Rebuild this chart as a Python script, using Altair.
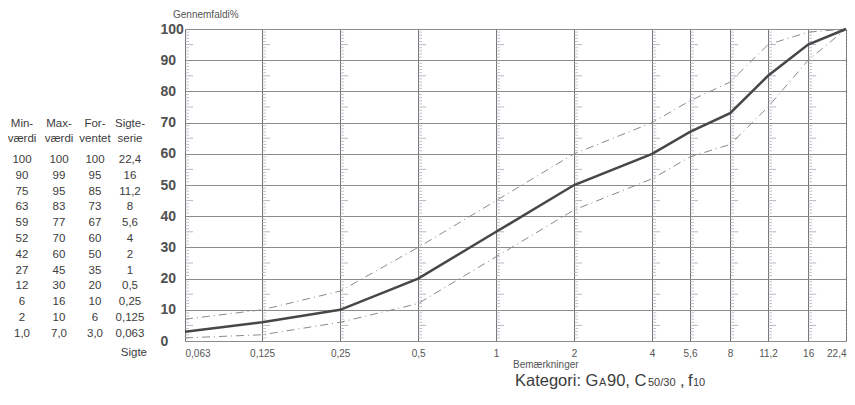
import altair as alt
import pandas as pd

# ---- data ----
sieves = [0.063, 0.125, 0.25, 0.5, 1, 2, 4, 5.6, 8, 11.2, 16, 22.4]
min_vals = [1, 2, 6, 12, 27, 42, 52, 59, 63, 75, 90, 100]
max_vals = [7, 10, 16, 30, 45, 60, 70, 77, 83, 95, 99, 100]
exp_vals = [3, 6, 10, 20, 35, 50, 60, 67, 73, 85, 95, 100]
y_ticks = [0, 10, 20, 30, 40, 50, 60, 70, 80, 90, 100]
headers1 = ["Min-", "Max-", "For-", "Sigte-"]
headers2 = ["værdi", "værdi", "ventet", "serie"]

FONT = "Liberation Sans"
W, H = 661, 312

def dk(v):
    return str(v).replace(".", ",")

def fmt_val(v, i):
    return f"{v:.1f}".replace(".", ",") if i == 0 else str(v)

# ---- curve data ----
curves = pd.DataFrame(
    [{"sieve": s, "pct": v, "series": "Min"} for s, v in zip(sieves, min_vals)]
    + [{"sieve": s, "pct": v, "series": "Max"} for s, v in zip(sieves, max_vals)]
)
expected = pd.DataFrame({"sieve": sieves, "pct": exp_vals})

# ruler ticks along each sieve line (grid decoration)
ruler_small = pd.DataFrame(
    [{"sieve": s, "pct": p} for s in sieves for p in range(1, 100) if p % 5 != 0]
)
ruler_big = pd.DataFrame(
    [{"sieve": s, "pct": p} for s in sieves for p in range(5, 100, 10)]
)

xscale = alt.Scale(type="log", domain=[sieves[0], sieves[-1]], nice=False)
yscale = alt.Scale(domain=[0, 100], nice=False)

x_enc = alt.X(
    "sieve:Q",
    scale=xscale,
    axis=alt.Axis(
        values=sieves,
        grid=True,
        gridColor="#707070",
        gridWidth=1,
        gridOpacity=1,
        domain=False,
        ticks=False,
        tickSize=0,
        labelPadding=7,
        labelFontSize=10,
        labelColor="#555555",
        labelFont=FONT,
        labelExpr="replace(toString(datum.value), '.', ',')",
        title=None,
        labelOverlap=False,
    ),
)
y_enc = alt.Y(
    "pct:Q",
    scale=yscale,
    axis=alt.Axis(
        values=y_ticks,
        tickCount=11,
        grid=True,
        gridColor="#8c8c8c",
        gridWidth=1,
        gridOpacity=1,
        domain=False,
        ticks=False,
        tickSize=0,
        labelAlign="left",
        labelBaseline="middle",
        labelPadding=25,
        labelFontSize=14,
        labelFontWeight="bold",
        labelColor="#505050",
        labelFont=FONT,
        labelOverlap=False,
        title=None,
    ),
)

small = alt.Chart(ruler_small).mark_tick(
    orient="horizontal", size=4, thickness=1, color="#a9a9b8", xOffset=2
).encode(x=x_enc, y=y_enc)
big = alt.Chart(ruler_big).mark_tick(
    orient="horizontal", size=8, thickness=1, color="#9a9aa8", xOffset=4
).encode(x=x_enc, y=y_enc)

limits = alt.Chart(curves).mark_line(
    color="#8a8a8a", strokeWidth=1, strokeDash=[8, 4, 1, 4]
).encode(x=x_enc, y=y_enc, detail="series:N")

main = alt.Chart(expected).mark_line(color="#474747", strokeWidth=2.5).encode(
    x=x_enc, y=y_enc
)

plot = alt.layer(small, big, limits, main)

# ---- annotation texts (pixel positions relative to plot origin) ----
col_x = [-163, -126, -90, -55]
row_y0, row_dy = 131, 15.8
hdr_y = [95, 110]

rows = []
n = len(sieves)
for i in range(n):
    r = n - 1 - i
    y = row_y0 + r * row_dy
    for c, t in enumerate([fmt_val(min_vals[i], i), fmt_val(max_vals[i], i),
                           fmt_val(exp_vals[i], i), dk(sieves[i])]):
        rows.append({"text": t, "px": col_x[c], "py": y})
for c in range(4):
    rows.append({"text": headers1[c], "px": col_x[c], "py": hdr_y[0]})
    rows.append({"text": headers2[c], "px": col_x[c], "py": hdr_y[1]})
table_df = pd.DataFrame(rows)

px_enc = alt.X("px:Q", scale=None, axis=None)
py_enc = alt.Y("py:Q", scale=None, axis=None)

table = alt.Chart(table_df).mark_text(
    font=FONT, fontSize=11.5, color="#3c3c3c", align="center", baseline="middle"
).encode(x=px_enc, y=py_enc, text="text:N")

small_left = pd.DataFrame([
    {"text": "Gennemfaldi%", "px": -12, "py": -14},
    {"text": "Bemærkninger", "px": 328, "py": 336},
])
small_txt = alt.Chart(small_left).mark_text(
    font=FONT, fontSize=10, color="#555555", align="left", baseline="middle"
).encode(x=px_enc, y=py_enc, text="text:N")

sigte = alt.Chart(pd.DataFrame([{"text": "Sigte", "px": -38, "py": 324}])).mark_text(
    font=FONT, fontSize=11.5, color="#3c3c3c", align="right", baseline="middle"
).encode(x=px_enc, y=py_enc, text="text:N")

kat_y = 357
kat_big = pd.DataFrame([
    {"text": "Kategori: G", "px": 330, "py": kat_y},
    {"text": "90, C", "px": 422, "py": kat_y},
    {"text": ",", "px": 495, "py": kat_y},
    {"text": "f", "px": 503, "py": kat_y},
])
kat_small = pd.DataFrame([
    {"text": "A", "px": 414, "py": kat_y},
    {"text": "50/30", "px": 463, "py": kat_y},
    {"text": "10", "px": 508, "py": kat_y},
])
kat1 = alt.Chart(kat_big).mark_text(
    font=FONT, fontSize=16.5, color="#3c3c3c", align="left", baseline="alphabetic"
).encode(x=px_enc, y=py_enc, text="text:N")
kat2 = alt.Chart(kat_small).mark_text(
    font=FONT, fontSize=11, color="#3c3c3c", align="left", baseline="alphabetic"
).encode(x=px_enc, y=py_enc, text="text:N")

texts = alt.layer(table, small_txt, sigte, kat1, kat2)

chart = (
    alt.layer(plot, texts)
    .resolve_scale(x="independent", y="independent")
    .properties(
        width=W,
        height=H,
        padding={"left": 177, "top": 21, "right": 1, "bottom": 51},
        autosize=alt.AutoSizeParams(type="none"),
        background="white",
    )
    .configure_view(stroke=None)
)

chart.save("out.html", embed_options={"renderer": "svg", "actions": False})
